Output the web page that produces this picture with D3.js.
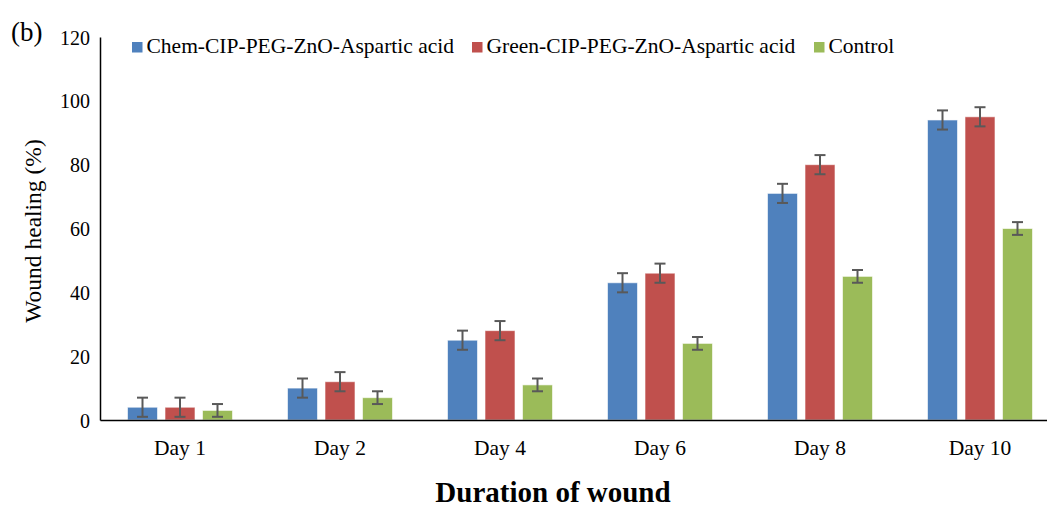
<!DOCTYPE html>
<html>
<head>
<meta charset="UTF-8">
<script src="https://d3js.org/d3.v7.min.js"></script>
<style>
  body { margin: 0; background: #fff; }
  text { font-family: "Liberation Serif", "Times New Roman", serif; fill: #000; }
</style>
</head>
<body>
<div id="chart"></div>
<script>
// data
const days = ["Day 1", "Day 2", "Day 4", "Day 6", "Day 8", "Day 10"];
const seriesNames = ["Chem-CIP-PEG-ZnO-Aspartic acid", "Green-CIP-PEG-ZnO-Aspartic acid", "Control"];
const chemValues = [4, 10, 25, 43, 71, 94];
const greenValues = [4, 12, 28, 46, 80, 95];
const controlValues = [3, 7, 11, 24, 45, 60];
const chemErr = [3, 3, 3, 3, 3, 3];
const greenErr = [3, 3, 3, 3, 3, 3];
const controlErr = [2, 2, 2, 2, 2, 2];
const yTicks = [0, 20, 40, 60, 80, 100, 120];
const colors = ["#4F81BD", "#C0504D", "#9BBB59"];

const width = 1047, height = 508;
const svg = d3.select("#chart").append("svg")
  .attr("width", width).attr("height", height);

const x = d3.scaleBand().domain(days).range([100, 1060]);
const x1 = d3.scaleBand().domain(d3.range(3)).range([0, 105]).paddingInner(0.2);
const y = d3.scaleLinear().domain([0, 120]).range([420, 37]);

const allVals = [chemValues, greenValues, controlValues];
const allErr = [chemErr, greenErr, controlErr];
const rows = [];
days.forEach((d, i) => {
  allVals.forEach((vals, s) => {
    rows.push({ day: d, s: s, v: vals[i], e: allErr[s][i] });
  });
});

const off = (x.bandwidth() - 105) / 2;

// bars
svg.append("g").selectAll("rect").data(rows).enter().append("rect")
  .attr("x", d => x(d.day) + off + x1(d.s))
  .attr("y", d => y(d.v))
  .attr("width", x1.bandwidth())
  .attr("height", d => y(0) - y(d.v))
  .attr("fill", d => colors[d.s])
  .attr("stroke", "#fff")
  .attr("stroke-opacity", 0.6)
  .attr("stroke-width", 1);

// error bars
const eb = svg.append("g").attr("stroke", "#595959").attr("stroke-width", 2);
rows.forEach(d => {
  const cx = x(d.day) + off + x1(d.s) + x1.bandwidth() / 2;
  eb.append("line").attr("x1", cx).attr("x2", cx).attr("y1", y(d.v + d.e)).attr("y2", y(d.v - d.e));
  eb.append("line").attr("x1", cx - 5.5).attr("x2", cx + 5.5).attr("y1", y(d.v + d.e)).attr("y2", y(d.v + d.e));
  eb.append("line").attr("x1", cx - 5.5).attr("x2", cx + 5.5).attr("y1", y(d.v - d.e)).attr("y2", y(d.v - d.e));
});

// axes
const yAxis = svg.append("g").attr("transform", "translate(100,0)")
  .call(d3.axisLeft(y).tickValues(yTicks).tickSize(0).tickPadding(10));
yAxis.select(".domain").attr("stroke", "#000").attr("stroke-width", 1.5);
yAxis.selectAll("text").style("font-family", "Liberation Serif").style("font-size", "20px").attr("dy", "0.35em");

const xAxis = svg.append("g").attr("transform", "translate(0,420)")
  .call(d3.axisBottom(x).tickSize(0).tickPadding(0));
xAxis.select(".domain").attr("stroke", "#000").attr("stroke-width", 1.5);
xAxis.selectAll("text").style("font-family", "Liberation Serif").style("font-size", "21.5px")
  .attr("y", 35).attr("dy", 0);

// titles
svg.append("text")
  .attr("transform", "translate(41,231) rotate(-90)")
  .attr("text-anchor", "middle")
  .style("font-size", "23.5px")
  .text("Wound healing (%)");

svg.append("text")
  .attr("x", 553).attr("y", 502)
  .attr("text-anchor", "middle")
  .style("font-size", "29px").style("font-weight", "bold")
  .text("Duration of wound");

svg.append("text")
  .attr("x", 11).attr("y", 41)
  .style("font-size", "27px")
  .text("(b)");

// legend
const legendX = [132, 472, 814];
const lg = svg.append("g");
seriesNames.forEach((n, i) => {
  lg.append("rect").attr("x", legendX[i]).attr("y", 42).attr("width", 10.5).attr("height", 10.5).attr("fill", colors[i]);
  lg.append("text").attr("x", legendX[i] + 14.5).attr("y", 53).style("font-size", "21.5px").text(n);
});
</script>
</body>
</html>
